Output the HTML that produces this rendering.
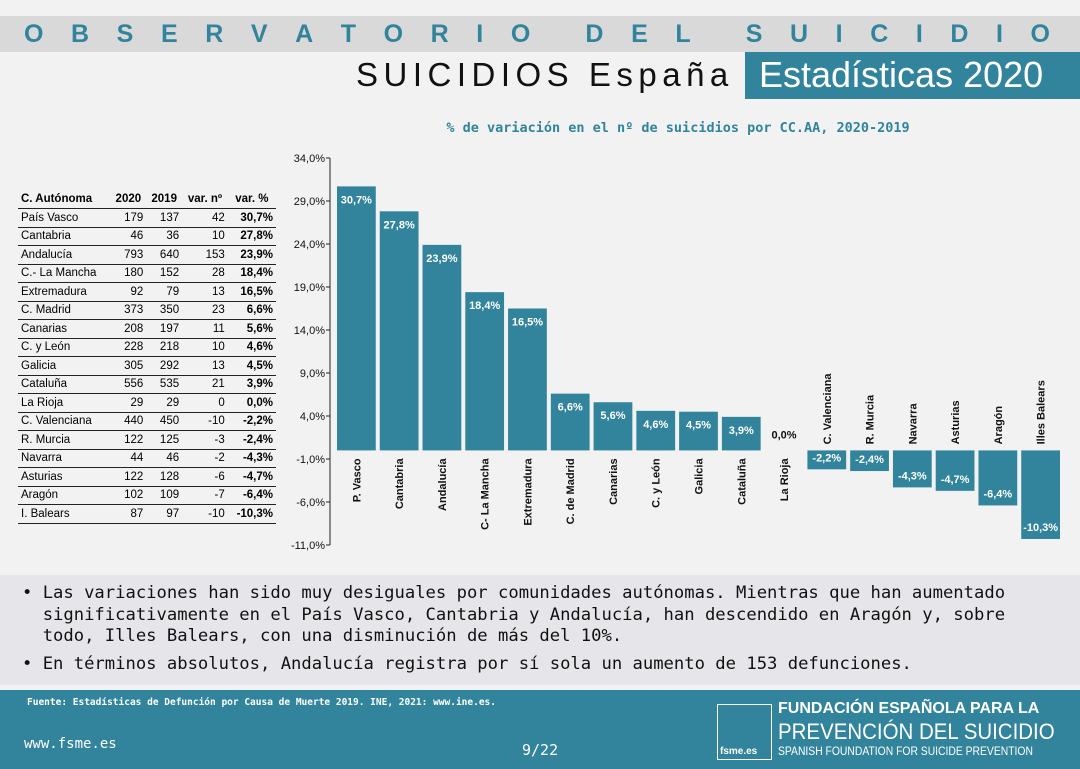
<!DOCTYPE html>
<html><head><meta charset="utf-8"><style>
body{margin:0;width:1080px;height:769px;background:#f2f2f2;font-family:"Liberation Sans",sans-serif;position:relative;overflow:hidden}
.abs{position:absolute}
#band{left:0;top:16px;width:1080px;height:36px;background:#d9d9d9}
#obs{left:24px;top:16px;width:1026px;height:36px;line-height:36px;color:#31849b;font-weight:bold;font-size:25px;display:flex;justify-content:space-between}
#sub{left:356px;top:56px;font-size:33px;letter-spacing:5.5px;color:#111;white-space:nowrap}
#est{left:745px;top:52px;width:335px;height:47px;background:#31849b;color:#fff;font-size:36px;line-height:45px;padding-left:14px;box-sizing:border-box;white-space:nowrap}
table{border-collapse:collapse;font-size:11.5px}
td{padding:0 3px;height:17.5px;border-bottom:1px solid #222;text-align:right}
td:first-child{text-align:left}
th{font-size:11.5px;padding:0 3px;height:18px;border-bottom:1.5px solid #222}
#notes{left:0;top:575px;width:1080px;height:110px;background:#e6e6ea;font-family:"DejaVu Sans Mono","Liberation Mono",monospace;font-size:17.2px;color:#111;line-height:21.5px;white-space:nowrap}
#foot{left:0;top:690px;width:1080px;height:79px;background:#31849b;color:#fff}
#foot div{white-space:nowrap}
</style></head><body>
<div class="abs" id="band"></div>
<div class="abs" id="obs"><span>O</span><span>B</span><span>S</span><span>E</span><span>R</span><span>V</span><span>A</span><span>T</span><span>O</span><span>R</span><span>I</span><span>O</span><span> </span><span>D</span><span>E</span><span>L</span><span> </span><span>S</span><span>U</span><span>I</span><span>C</span><span>I</span><span>D</span><span>I</span><span>O</span></div>
<div class="abs" id="sub">SUICIDIOS España</div>
<div class="abs" id="est">Estadísticas 2020</div>

<div class="abs" style="left:18px;top:190px">
<table style="width:258px">
<tr><th style="text-align:left">C. Autónoma</th><th>2020</th><th>2019</th><th>var. nº</th><th>var. %</th></tr>
<tr><td>País Vasco</td><td>179</td><td>137</td><td>42</td><td><b>30,7%</b></td></tr>
<tr><td>Cantabria</td><td>46</td><td>36</td><td>10</td><td><b>27,8%</b></td></tr>
<tr><td>Andalucía</td><td>793</td><td>640</td><td>153</td><td><b>23,9%</b></td></tr>
<tr><td>C.- La Mancha</td><td>180</td><td>152</td><td>28</td><td><b>18,4%</b></td></tr>
<tr><td>Extremadura</td><td>92</td><td>79</td><td>13</td><td><b>16,5%</b></td></tr>
<tr><td>C. Madrid</td><td>373</td><td>350</td><td>23</td><td><b>6,6%</b></td></tr>
<tr><td>Canarias</td><td>208</td><td>197</td><td>11</td><td><b>5,6%</b></td></tr>
<tr><td>C. y León</td><td>228</td><td>218</td><td>10</td><td><b>4,6%</b></td></tr>
<tr><td>Galicia</td><td>305</td><td>292</td><td>13</td><td><b>4,5%</b></td></tr>
<tr><td>Cataluña</td><td>556</td><td>535</td><td>21</td><td><b>3,9%</b></td></tr>
<tr><td>La Rioja</td><td>29</td><td>29</td><td>0</td><td><b>0,0%</b></td></tr>
<tr><td>C. Valenciana</td><td>440</td><td>450</td><td>-10</td><td><b>-2,2%</b></td></tr>
<tr><td>R. Murcia</td><td>122</td><td>125</td><td>-3</td><td><b>-2,4%</b></td></tr>
<tr><td>Navarra</td><td>44</td><td>46</td><td>-2</td><td><b>-4,3%</b></td></tr>
<tr><td>Asturias</td><td>122</td><td>128</td><td>-6</td><td><b>-4,7%</b></td></tr>
<tr><td>Aragón</td><td>102</td><td>109</td><td>-7</td><td><b>-6,4%</b></td></tr>
<tr><td>I. Balears</td><td>87</td><td>97</td><td>-10</td><td><b>-10,3%</b></td></tr>
</table></div>

<svg class="abs" style="left:0;top:0" width="1080" height="570">
<text x="678" y="132" text-anchor="middle" font-family="DejaVu Sans Mono,monospace" font-weight="bold" font-size="13.5" fill="#31849b">% de variación en el nº de suicidios por CC.AA, 2020-2019</text>
<g id="g"></g>
</svg>

<div class="abs" id="notes">
<div style="position:absolute;left:22px;top:8px">• Las variaciones han sido muy desiguales por comunidades autónomas. Mientras que han aumentado<br>&nbsp;&nbsp;significativamente en el País Vasco, Cantabria y Andalucía, han descendido en Aragón y, sobre<br>&nbsp;&nbsp;todo, Illes Balears, con una disminución de más del 10%.</div>
<div style="position:absolute;left:22px;top:79px">• En términos absolutos, Andalucía registra por sí sola un aumento de 153 defunciones.</div>
</div>

<div class="abs" id="foot">
<div class="abs" style="left:27px;top:7px;font-size:9.5px;font-family:'DejaVu Sans Mono',monospace;font-weight:bold">Fuente: Estadísticas de Defunción por Causa de Muerte 2019. INE, 2021: www.ine.es.</div>
<div class="abs" style="left:24px;top:46px;font-size:14px;font-family:'DejaVu Sans Mono',monospace">www.fsme.es</div>
<div class="abs" style="left:522px;top:51px;font-size:15px;font-family:'DejaVu Sans Mono',monospace">9/22</div>
<div class="abs" style="left:717px;top:14px;width:55px;height:56px;border:1.5px solid #fff;box-sizing:border-box"><span style="position:absolute;bottom:2px;left:2px;font-size:10px;font-weight:bold">fsme.es</span></div>
<div class="abs" style="left:778px;top:10px;font-size:16px;font-weight:bold">FUNDACIÓN ESPAÑOLA PARA LA</div>
<div class="abs" style="left:778px;top:29px;font-size:22px;transform:scaleX(0.93);transform-origin:left">PREVENCIÓN DEL SUICIDIO</div>
<div class="abs" style="left:778px;top:56px;font-size:11.5px;transform:scaleX(0.9);transform-origin:left">SPANISH FOUNDATION FOR SUICIDE PREVENTION</div>
</div>

<script>
const categories=["P. Vasco","Cantabria","Andalucía","C- La Mancha","Extremadura","C. de Madrid","Canarias","C. y León","Galicia","Cataluña","La Rioja","C. Valenciana","R. Murcia","Navarra","Asturias","Aragón","Illes Balears"];
const values=[30.7,27.8,23.9,18.4,16.5,6.6,5.6,4.6,4.5,3.9,0.0,-2.2,-2.4,-4.3,-4.7,-6.4,-10.3];
const ticks=[34,29,24,19,14,9,4,-1,-6,-11];
(function(){
const NS="http://www.w3.org/2000/svg";
const g=document.getElementById('g');
const yMin=-11,yMax=34,pTop=158,pBot=545,pLeft=335,pRight=1062;
const y=v=>pTop+(yMax-v)/(yMax-yMin)*(pBot-pTop);
const step=(pRight-pLeft)/categories.length;
const x=i=>pLeft+i*step;
function mk(t,a){const e=document.createElementNS(NS,t);for(const k in a)e.setAttribute(k,a[k]);g.appendChild(e);return e;}
const ax=mk('line',{x1:330,x2:330,y1:pTop,y2:pBot,stroke:'#222'});


ticks.forEach(t=>{
 const l=mk('line',{x1:326,x2:330,y1:y(t),y2:y(t),stroke:'#222'});
 
 
 const tx=mk('text',{x:325,y:y(t)+4,'text-anchor':'end','font-size':11,fill:'#111'});
 tx.textContent=t.toFixed(1).replace('.',',')+'%';
 
 
});
const z=y(0);
values.forEach((v,i)=>{
 const bx=x(i)+2, bw=step-4;
 const r=mk('rect',{x:bx,y:Math.min(y(v),z),width:bw,height:Math.abs(y(v)-z),fill:'#31849b'});
 
 
 const cx=bx+bw/2;
 const lbl=v.toFixed(1).replace('.',',')+'%';
 const t=mk('text',{x:cx,'text-anchor':'middle','font-size':11,'font-weight':'bold',fill:v===0?'#111':'#fff'});
 t.setAttribute('y',v>0?y(v)+17:(v<0?y(v)-8:z-12));
 t.textContent=lbl;
 
 
 const c=mk('text',{'font-size':11,'font-weight':'bold',fill:'#111'});
 if(v>=0){c.setAttribute('transform','translate('+(cx+4)+','+(z+8)+') rotate(-90)');c.setAttribute('text-anchor','end');}
 else{c.setAttribute('transform','translate('+(cx+4)+','+(z-6)+') rotate(-90)');c.setAttribute('text-anchor','start');}
 c.textContent=categories[i];
 
 
});
})();
</script>
</body></html>
